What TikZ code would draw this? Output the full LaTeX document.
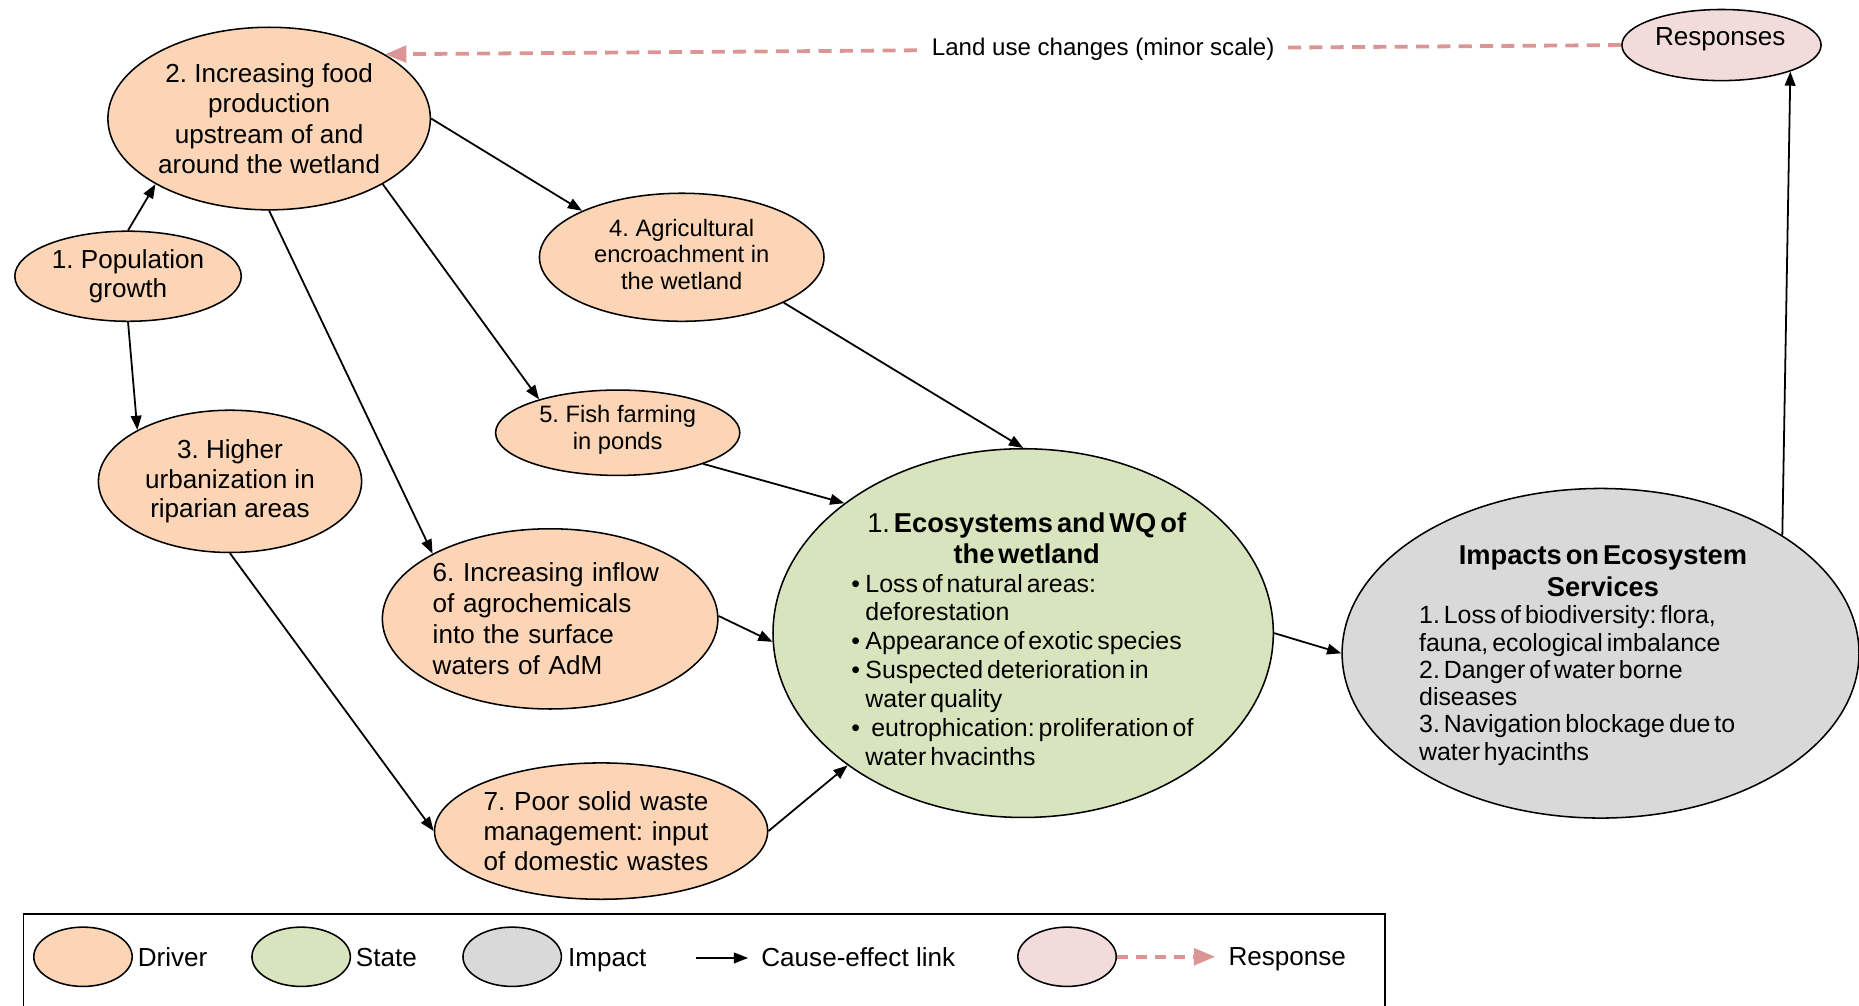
\documentclass[tikz,border=0pt]{standalone}
\usepackage{fontspec}
\setmainfont{Liberation Sans}
\usetikzlibrary{arrows.meta,shapes.geometric}
\definecolor{drv}{HTML}{FBD5B5}
\definecolor{sta}{HTML}{D7E4BD}
\definecolor{imp}{HTML}{D9D9D9}
\definecolor{rsp}{HTML}{F2DCDB}
\definecolor{rspline}{HTML}{D99694}
\newcommand\fsz[2]{\fontsize{#1}{#2}\selectfont}
\newcommand\bitem{\noindent\makebox[12pt][l]{\textbullet}}
\newcommand\bcont{\noindent\hspace*{12pt}}
\begin{document}
\frenchspacing
\begin{tikzpicture}[x=1pt,y=1pt,
  ell/.style={ellipse, draw=black, line width=1.3pt, inner sep=-25pt},
  drvnode/.style={ell, fill=drv},
  cause/.style={-{Triangle[length=12pt,width=9pt]}, line width=1.5pt, draw=black},
  respline/.style={draw=rspline, line width=3.2pt, dash pattern=on 11pt off 7pt,
    -{Triangle[length=18pt,width=14pt]}},
  lgtxt/.style={font=\fsz{22}{26}, inner sep=0pt, anchor=base west},
  lbl/.style={fill=white, font=\fsz{20.3}{24}, inner xsep=8pt, inner ysep=2pt}
]
\useasboundingbox (0,0) rectangle (1568,-848);

% Driver nodes
\node[drvnode, minimum width=272pt, minimum height=154pt, font=\fsz{22}{25.6}, align=center]
  (n2) at (227,-100) {2. Increasing food\\production\\upstream of and\\around the wetland};
\node[drvnode, minimum width=191pt, minimum height=76pt, font=\fsz{22}{25}, align=center]
  (n1) at (108,-233) {1. Population\\growth};
\node[drvnode, minimum width=240pt, minimum height=108pt, font=\fsz{20}{22.5}, align=center]
  (n4) at (575,-217) {4. Agricultural\\encroachment in\\the wetland\vspace{5pt}};
\node[drvnode, minimum width=206pt, minimum height=72pt, font=\fsz{20}{23}, align=center]
  (n5) at (521,-365) {5. Fish farming\\in ponds\vspace{5pt}};
\node[drvnode, minimum width=222pt, minimum height=120pt, font=\fsz{22}{25}, align=center]
  (n3) at (194,-406) {3. Higher\\urbanization in\\riparian areas};
\node[drvnode, minimum width=283pt, minimum height=152pt, font=\fsz{22}{26}, align=left, text width=198pt]
  (n6) at (464,-522) {6. Increasing inflow\\of agrochemicals\\into the surface\\waters of AdM};
\node[drvnode, minimum width=281pt, minimum height=115pt, font=\fsz{22}{25.5}, align=left, text width=198pt]
  (n7) at (507,-701) {7. Poor solid waste\\management: input\\of domestic wastes};

% State node
\node[ell, fill=sta, minimum width=422pt, minimum height=311pt] (st) at (863,-534) {};
\node[text width=296pt, inner sep=0pt] (stt) at (866,-539) {%
  {\fsz{23}{26}\centering 1. \textbf{Ecosystems and WQ of}\\\textbf{the wetland}\par}%
  {\fsz{21}{24.3}\raggedright
  \bitem Loss of natural areas:\par
  \bcont deforestation\par
  \bitem Appearance of exotic species\par
  \bitem Suspected deterioration in\par
  \bcont water quality\par
  \bitem\hspace{5pt}eutrophication: proliferation of\par
  \bcont water hvacinths\par}};

% Impact node
\node[ell, fill=imp, minimum width=436pt, minimum height=278pt] (im) at (1350,-551) {};
\node[text width=310pt, inner sep=0pt] (imt) at (1352,-553) {%
  {\fsz{23}{27}\centering\bfseries Impacts on Ecosystem\\Services\par}%
  {\fsz{21}{23}\raggedright 1. Loss of biodiversity: flora,\\fauna, ecological imbalance\\2. Danger of water borne\\diseases\\3. Navigation blockage due to\\water hyacinths\par}};

% Response node
\node[ell, fill=rsp, minimum width=168pt, minimum height=60pt] (rs) at (1452,-38) {};
\node[font=\fsz{22}{26}, inner sep=0pt] (rst) at (1451,-33) {Responses};

% Cause-effect links
\draw[cause] (n1.north) -- (n2.210);
\draw[cause] (n1.south) -- (n3.151);
\draw[cause] (n2.east) -- (n4.155);
\draw[cause] (n2.330) -- (n5.157);
\draw[cause] (n2.south) -- (n6.151);
\draw[cause] (n3.south) -- (n7.west);
\draw[cause] (n4.336) -- (st.north);
\draw[cause] (n5.340) -- (st.144);
\draw[cause] (n6.1) -- (st.182);
\draw[cause] (n7.east) -- (st.217);
\draw[cause] (st.east) -- (im.west);
\draw[cause] (im.33) -- (rs.339);

% Response link
\draw[respline] (rs.west) -- node[lbl, pos=0.419] (lu) {Land use changes (minor scale)\hspace{17pt}} (n2.29);

% Legend
\draw[line width=1.3pt] (20,-849) -- (20,-771) -- (1168,-771) -- (1168,-849);
\node[drvnode, minimum width=83pt, minimum height=50pt] (lgd) at (70,-807) {};
\node[lgtxt] (lgdt) at (116,-815.5) {Driver};
\node[ell, fill=sta, minimum width=83pt, minimum height=50pt] (lgs) at (254,-807) {};
\node[lgtxt] (lgst) at (300,-815.5) {State};
\node[ell, fill=imp, minimum width=83pt, minimum height=50pt] (lgi) at (432,-807) {};
\node[lgtxt] (lgit) at (479,-815.5) {Impact};
\coordinate (la1) at (587,-808);
\coordinate (la2) at (631,-808);
\draw[cause] (la1) -- (la2);
\node[lgtxt] (lgct) at (642,-815.5) {Cause-effect link};
\node[ell, fill=rsp, minimum width=83pt, minimum height=50pt] (lgr) at (900,-807) {};
\coordinate (lr2) at (1025,-807);
\draw[respline, dash pattern=on 9pt off 7pt] (lgr.east) -- (lr2);
\node[lgtxt] (lgrt) at (1036,-814.5) {Response};
\end{tikzpicture}
\end{document}
